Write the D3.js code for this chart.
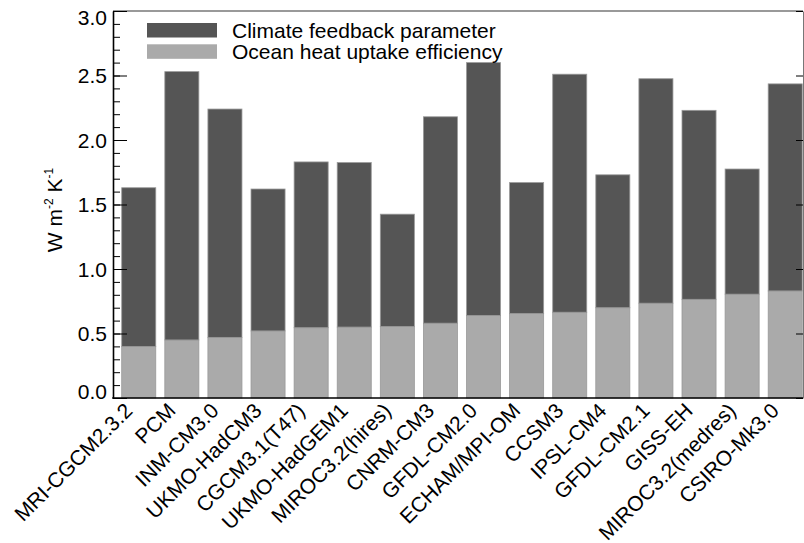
<!DOCTYPE html>
<html>
<head>
<meta charset="utf-8">
<script src="https://cdn.jsdelivr.net/npm/d3@7"></script>
<style>
  body { margin: 0; background: #fff; }
  text { font-family: "Liberation Sans", Arial, Helvetica, sans-serif; }
</style>
</head>
<body>
<svg id="chart" width="804" height="543"></svg>
<script>
// model names along the bottom
var models = ["MRI-CGCM2.3.2", "PCM", "INM-CM3.0", "UKMO-HadCM3", "CGCM3.1(T47)",
  "UKMO-HadGEM1", "MIROC3.2(hires)", "CNRM-CM3", "GFDL-CM2.0", "ECHAM/MPI-OM",
  "CCSM3", "IPSL-CM4", "GFDL-CM2.1", "GISS-EH", "MIROC3.2(medres)", "CSIRO-Mk3.0"]

// ocean heat uptake efficiency (bottom segment)
var oceanUptake = [0.40, 0.45, 0.47, 0.52, 0.545, 0.55, 0.555, 0.58,
  0.64, 0.655, 0.665, 0.70, 0.735, 0.765, 0.805, 0.83]

// climate feedback parameter (stacked on top)
var feedback = [1.23, 2.08, 1.77, 1.10, 1.285, 1.275, 0.87, 1.60,
  1.96, 1.015, 1.845, 1.03, 1.74, 1.465, 0.97, 1.605]

var seriesNames = ["Ocean heat uptake efficiency", "Climate feedback parameter"]
var seriesColors = ["#aaaaaa", "#555555"]
var majorTicks = [0, 0.5, 1.0, 1.5, 2.0, 2.5, 3.0]

var svg = d3.select("#chart")

var xleft = 113, xright = 803, ytop = 11, ybottom = 398

var x = d3.scaleBand()
  .domain(models)
  .range([xleft, xright])
  .paddingInner(0.21)
  .paddingOuter(0.11)
  .align(0.92)

var y = d3.scaleLinear()
  .domain([0, 3])
  .range([ybottom, ytop])

var rows = models.map(function(m, i) {
  return {model: m, ocean: oceanUptake[i], feedback: feedback[i]}
})

var stacked = d3.stack().keys(["ocean", "feedback"])(rows)

// bars
svg.append("g")
  .selectAll("g")
  .data(stacked)
  .enter()
  .append("g")
  .attr("fill", function(d, i) { return seriesColors[i] })
  .selectAll("rect")
  .data(function(d) { return d })
  .enter()
  .append("rect")
  .attr("x", function(d) { return x(d.data.model) })
  .attr("y", function(d) { return y(d[1]) })
  .attr("width", x.bandwidth())
  .attr("height", function(d) { return y(d[0]) - y(d[1]) })
  .attr("stroke", "#999")
  .attr("stroke-width", 0.8)

// top frame line
svg.append("line")
  .attr("x1", xleft).attr("x2", xright)
  .attr("y1", ytop).attr("y2", ytop)
  .attr("stroke", "#777")
  .attr("stroke-width", 1.6)

// right frame with major ticks only
var rightAxis = svg.append("g")
  .attr("transform", "translate(" + xright + ",0)")
  .call(d3.axisRight(y).tickValues(majorTicks).tickSizeInner(-7).tickSizeOuter(0).tickFormat(""))
rightAxis.select(".domain").attr("stroke", "#777").attr("stroke-width", 1)

// left minor ticks
svg.append("g")
  .attr("transform", "translate(" + xleft + ",0)")
  .call(d3.axisLeft(y).tickValues(d3.range(0, 31).map(function(v) { return v / 10 }))
    .tickSizeInner(-7).tickSizeOuter(0).tickFormat(""))
  .select(".domain").remove()

// left major ticks + labels
var leftAxis = svg.append("g")
  .attr("transform", "translate(" + xleft + ",0)")
  .call(d3.axisLeft(y).tickValues(majorTicks).tickSizeInner(-14).tickSizeOuter(0)
    .tickPadding(6).tickFormat(d3.format(".1f")))
leftAxis.select(".domain").attr("stroke-width", 1.6)
leftAxis.selectAll("text")
  .attr("font-size", "21px")
  .attr("fill", "#000")
  .attr("dy", function(d) { return d == 0 ? "-0.0em" : (d == 3 ? "0.65em" : "0.35em") })

// bottom axis line
svg.append("line")
  .attr("x1", xleft - 0.8).attr("x2", xright)
  .attr("y1", ybottom).attr("y2", ybottom)
  .attr("stroke", "#000")
  .attr("stroke-width", 1.6)

// rotated model labels
svg.append("g")
  .selectAll("text")
  .data(models)
  .enter()
  .append("text")
  .attr("font-size", "21px")
  .attr("text-anchor", "end")
  .attr("transform", function(d) {
    return "translate(" + (x(d) + x.bandwidth() / 2 - 5) + "," + 412 + ") rotate(-45)"
  })
  .text(function(d) { return d })

// y label
var ylab = svg.append("text")
  .attr("font-size", "21px")
  .attr("text-anchor", "middle")
  .attr("transform", "translate(62,210) rotate(-90)")
ylab.append("tspan").text("W m")
ylab.append("tspan").attr("font-size", "12px").attr("dy", "-9").text("-2")
ylab.append("tspan").attr("dy", "9").text(" K")
ylab.append("tspan").attr("font-size", "12px").attr("dy", "-9").text("-1")

// legend
var legend = svg.append("g")
  .selectAll("g")
  .data([1, 0])
  .enter()
  .append("g")
  .attr("transform", function(d, i) { return "translate(147," + (23 + i * 21.3) + ")" })
legend.append("rect")
  .attr("width", 70)
  .attr("height", 14.5)
  .attr("fill", function(d) { return seriesColors[d] })
legend.append("text")
  .attr("x", 85)
  .attr("y", 14.5)
  .attr("font-size", "21px")
  .text(function(d) { return seriesNames[d] })
</script>
</body>
</html>
